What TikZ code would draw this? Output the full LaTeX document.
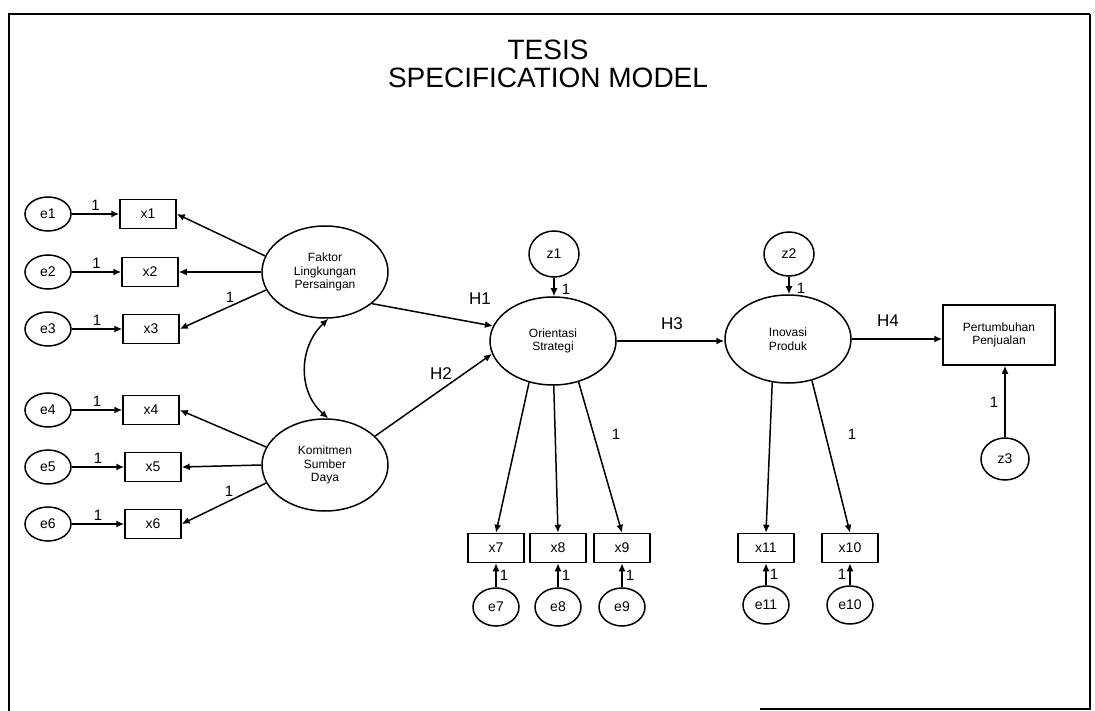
\documentclass[tikz,border=0pt]{standalone}
\usepackage{fontspec}
\setmainfont{Liberation Sans}
\usetikzlibrary{arrows.meta,shapes.geometric}
\begin{document}
\begin{tikzpicture}[x=1pt,y=-1pt,line width=1.5pt,
  err/.style={draw,ellipse,inner sep=0pt,minimum width=46pt,minimum height=34pt,font=\fontsize{14}{14}\selectfont},
  obs/.style={draw,rectangle,inner sep=0pt,minimum width=56pt,minimum height=29pt,font=\fontsize{14}{14}\selectfont},
  latent/.style={draw,ellipse,inner sep=0pt,minimum width=126pt,minimum height=88pt,align=center,font=\fontsize{12}{13.5}\selectfont},
  dist/.style={draw,ellipse,inner sep=0pt,minimum width=50pt,minimum height=46pt,font=\fontsize{14}{14}\selectfont},
  arr/.style={-{Latex[length=8pt,width=7pt]}},
  dbl/.style={{Latex[length=8pt,width=7pt]}-{Latex[length=8pt,width=7pt]}},
  lbl/.style={font=\fontsize{15}{15}\selectfont,inner sep=0pt},
  hlbl/.style={font=\fontsize{17}{17}\selectfont,inner sep=0pt}]
\useasboundingbox (0,0) rectangle (1095,711);
% frame
\draw[line width=2.5pt] (9,711) -- (9,14) -- (1090,14);
\draw[line width=1.2pt] (1090,14) -- (1090,709) -- (760,709);
% title
\node[font=\fontsize{28}{28}\selectfont,align=center] (title) at (548,64) {TESIS\\SPECIFICATION MODEL};
% left indicators
\node[err] (e1) at (48,214) {e1}; \node[obs] (x1) at (148,214) {x1};
\node[err] (e2) at (48,272) {e2}; \node[obs] (x2) at (150,272) {x2};
\node[err] (e3) at (48,329) {e3}; \node[obs] (x3) at (151,329) {x3};
\node[err] (e4) at (48,410) {e4}; \node[obs] (x4) at (151,410) {x4};
\node[err] (e5) at (48,467) {e5}; \node[obs] (x5) at (153,467) {x5};
\node[err] (e6) at (48,524) {e6}; \node[obs] (x6) at (153,524) {x6};
\foreach \i in {1,...,6}{
  \draw[arr] (e\i) -- (x\i) node[lbl,midway,above=3pt] {1};
}
% latent exogenous
\node[latent,minimum height=92pt] (F) at (325,272) {Faktor\\Lingkungan\\Persaingan};
\node[latent,minimum height=92pt] (K) at (325,465) {Komitmen\\Sumber\\Daya};
\draw[arr] (F.165) -- (x1.east);
\draw[arr] (F.180) -- (x2.east);
\draw[arr] (F.197) -- (x3.east);
\node[lbl] (lf) at (230,297) {1};
\draw[arr] (K.163) -- (x4.east);
\draw[arr] (K.180) -- (x5.east);
\draw[arr] (K.197) -- (x6.east);
\node[lbl] (lk) at (229,491) {1};
\draw[dbl] (F.274) .. controls (298,348) and (298,392) .. (K.86);
% Orientasi
\node[latent] (O) at (553,341) {Orientasi\\Strategi};
\node[dist] (z1) at (554,254) {z1};
\draw[arr] (z1.south) -- (z1.south |- O.north);
\node[lbl] (lz1) at (566,289) {1};
\draw[arr] (F.326) -- (O.166);
\node[hlbl] (h1) at (480,299) {H1};
\draw[arr] (K.30) -- (O.192);
\node[hlbl] (h2) at (441,374) {H2};
% Inovasi
\node[latent] (I) at (788,339) {Inovasi\\Produk};
\node[dist,minimum height=44pt] (z2) at (789,254) {z2};
\draw[arr] (z2.south) -- (z2.south |- I.north);
\node[lbl] (lz2) at (801,288) {1};
\draw[arr] (O.east) -- (O.east -| I.west);
\node[hlbl] (h3) at (672,324) {H3};
% Pertumbuhan
\node[draw,rectangle,inner sep=0pt,minimum width=112pt,minimum height=60pt,align=center,font=\fontsize{12}{13.5}\selectfont] (P) at (999,335) {Pertumbuhan\\Penjualan};
\draw[arr] (I.east) -- (I.east -| P.west);
\node[hlbl] (h4) at (888,321) {H4};
\node[dist,minimum width=48pt,minimum height=42pt] (z3) at (1005,459) {z3};
\draw[arr] (z3.north) -- (z3.north |- P.south);
\node[lbl] (lz3) at (994,402) {1};
% bottom indicators
\node[obs] (x7) at (496,548) {x7};
\node[obs] (x8) at (558,548) {x8};
\node[obs] (x9) at (622,548) {x9};
\node[obs] (x11) at (766,548) {x11};
\node[obs] (x10) at (850,548) {x10};
\node[err,minimum height=38pt] (e7) at (496,607) {e7};
\node[err,minimum height=38pt] (e8) at (558,607) {e8};
\node[err,minimum height=38pt] (e9) at (622,607) {e9};
\node[err,minimum height=38pt] (e11) at (766,605) {e11};
\node[err,minimum height=38pt] (e10) at (850,605) {e10};
\draw[arr] (O.240) -- (x7.north);
\draw[arr] (O.271) -- (x8.north);
\draw[arr] (O.302) -- (x9.north);
\node[lbl] (l9) at (616,434) {1};
\draw[arr] (I.250) -- (x11.north);
\draw[arr] (I.300) -- (x10.north);
\node[lbl] (l10) at (852,434) {1};
\draw[arr] (e7) -- (x7) node[lbl,midway,right=3pt] {1};
\draw[arr] (e8) -- (x8) node[lbl,midway,right=3pt] {1};
\draw[arr] (e9) -- (x9) node[lbl,midway,right=3pt] {1};
\draw[arr] (e11) -- (x11) node[lbl,midway,right=3pt] {1};
\draw[arr] (e10) -- (x10) node[lbl,midway,left=3pt] {1};
\end{tikzpicture}
\end{document}
